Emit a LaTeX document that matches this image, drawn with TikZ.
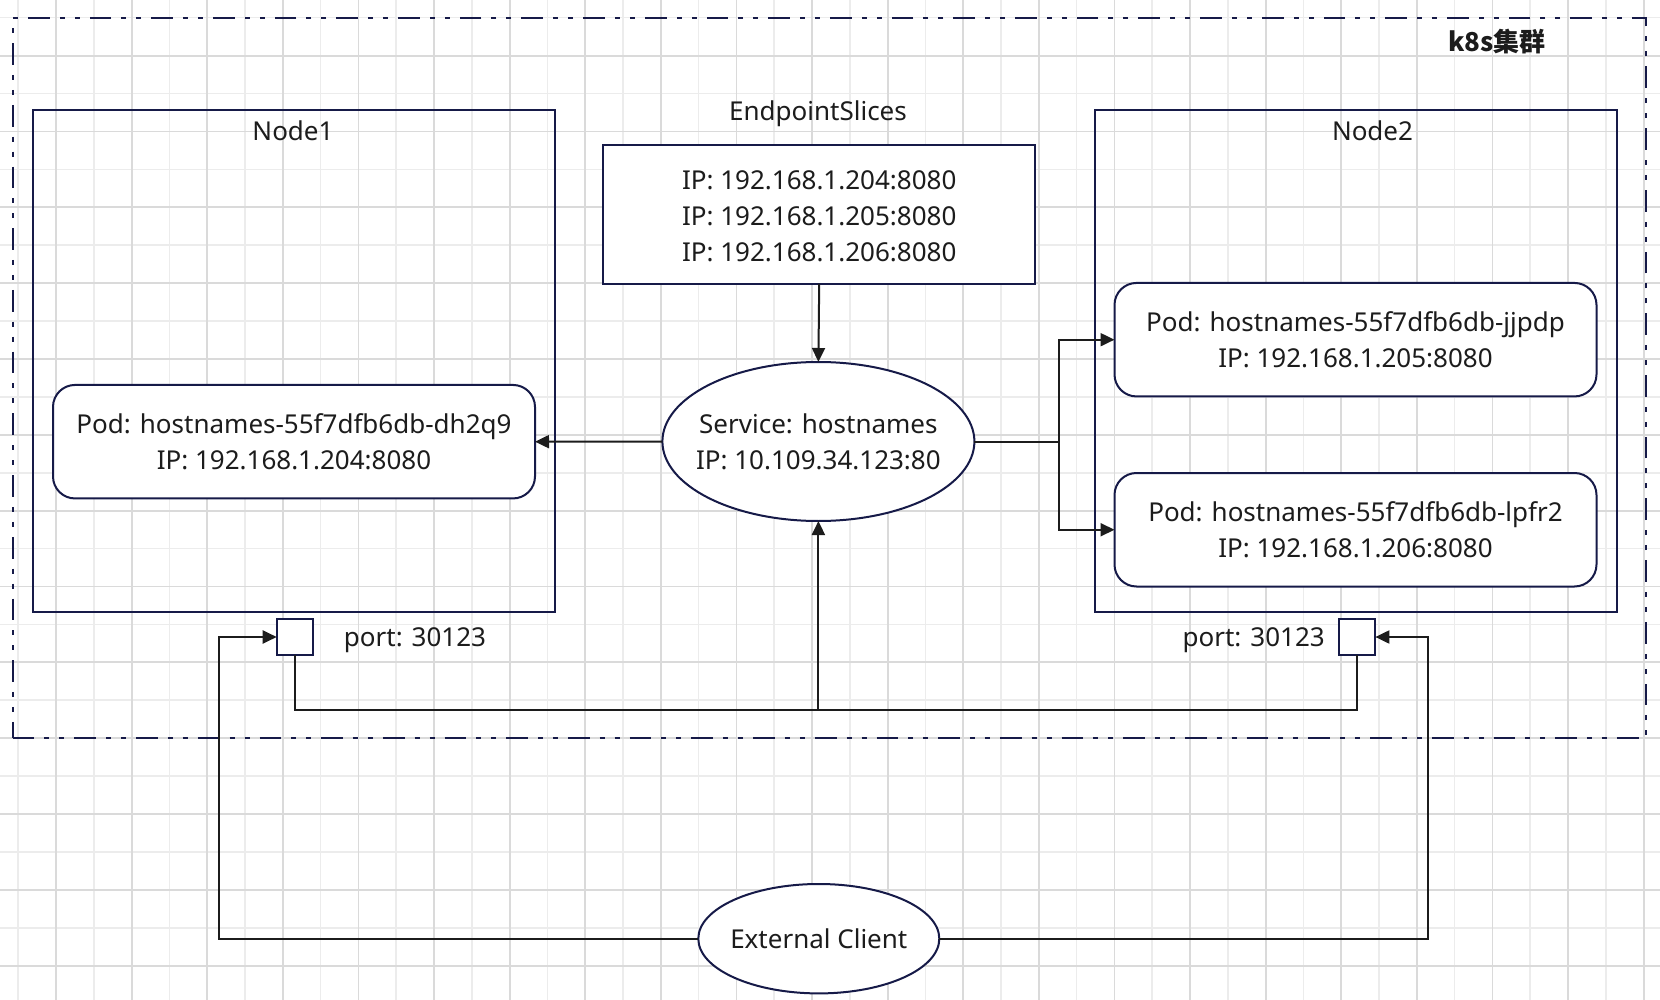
\documentclass[tikz,border=0pt]{standalone}
\usepackage{fontspec}
\setmainfont{Noto Sans}
\newfontfamily\cjk{Noto Sans CJK SC}
\usetikzlibrary{arrows.meta,shapes.geometric}

\definecolor{navy}{RGB}{22,26,72}
\definecolor{ink}{RGB}{28,28,28}
\definecolor{gridmaj}{RGB}{218,218,218}
\definecolor{gridmin}{RGB}{236,236,236}

\tikzset{
  gridmajor/.style={draw=gridmaj,line width=1.8pt},
  gridminor/.style={draw=gridmin,line width=1.6pt},
  box/.style={draw=navy,line width=2pt,fill=white,rectangle,inner sep=0pt,outer sep=0pt},
  frame/.style={draw=navy,line width=2pt,rectangle,inner sep=0pt,outer sep=0pt},
  podbox/.style={box,rounded corners=22pt,minimum width=482pt,minimum height=113.5pt,align=center},
  oval/.style={draw=navy,line width=2pt,fill=white,ellipse,inner sep=0pt,outer sep=0pt},
  cluster/.style={draw=navy,line width=2pt,rectangle,inner sep=0pt,outer sep=0pt,
    dash pattern=on 21.7pt off 10pt on 5pt off 10pt on 5pt off 10pt},
  label/.style={inner sep=0pt,text=ink,text height=18.6pt,text depth=0pt},
  multiline/.style={inner sep=0pt,text=ink,align=center},
  conn/.style={draw=ink,line width=2pt},
  arr/.style={conn,-{Triangle[length=14pt,width=13pt]}},
}

\begin{document}
\begin{tikzpicture}[x=1pt,y=-1pt,font=\fontsize{26}{36}\selectfont,text=ink]
\useasboundingbox[fill=white] (0,0) rectangle (1660,1000);

% background grid
\foreach \k in {0,...,43}{
  \pgfmathsetmacro\gx{18.2+37.8*\k}
  \ifodd\k\else\draw[gridminor] (\gx,0) -- (\gx,1000);\fi
}
\foreach \k in {0,...,26}{
  \pgfmathsetmacro\gy{17.7+37.92*\k}
  \ifodd\k\else\draw[gridminor] (0,\gy) -- (1660,\gy);\fi
}
\foreach \k in {0,...,43}{
  \pgfmathsetmacro\gx{18.2+37.8*\k}
  \ifodd\k\draw[gridmajor] (\gx,0) -- (\gx,1000);\fi
}
\foreach \k in {0,...,26}{
  \pgfmathsetmacro\gy{17.7+37.92*\k}
  \ifodd\k\draw[gridmajor] (0,\gy) -- (1660,\gy);\fi
}

% cluster boundary
\node[cluster,minimum width=1632.8pt,minimum height=720pt] (k8s) at (829.1,378.3) {};
\node[label,font=\fontsize{26}{30}\cjk\bfseries] (k8slabel) at (1497,42) {k8s集群};

% worker nodes
\node[frame,minimum width=521.8pt,minimum height=502pt] (node1) at (293.6,360.7) {};
\node[label] (node1label) at (293,131) {Node1};
\node[frame,minimum width=522.2pt,minimum height=502pt] (node2) at (1355.6,360.7) {};
\node[label] (node2label) at (1372.5,131) {Node2};

% endpoint slices
\node[label] (epslabel) at (818,111) {EndpointSlices};
\node[box,minimum width=431.7pt,minimum height=139pt] (eps) at (819.2,214.5) {};
\node[multiline] (epstext) at (819.2,216.5)
  {IP: 192.168.1.204:8080\\IP: 192.168.1.205:8080\\IP: 192.168.1.206:8080};

% service
\node[oval,minimum width=312pt,minimum height=159pt] (svc) at (818.4,441.5) {};
\node[multiline] (svctext) at (818.4,441.5) {Service: hostnames\\IP: 10.109.34.123:80};

% pods
\node[podbox] (pod1) at (294,441.7) {Pod: hostnames-55f7dfb6db-dh2q9\\IP: 192.168.1.204:8080};
\node[podbox] (pod2) at (1355.5,339.7) {Pod: hostnames-55f7dfb6db-jjpdp\\IP: 192.168.1.205:8080};
\node[podbox] (pod3) at (1355.5,529.75) {Pod: hostnames-55f7dfb6db-lpfr2\\IP: 192.168.1.206:8080};

% node ports
\node[box,minimum width=36.6pt,minimum height=36pt] (port1) at (295,637) {};
\node[label] (port1label) at (415,637) {port: 30123};
\node[box,minimum width=36.3pt,minimum height=36pt] (port2) at (1357.2,637) {};
\node[label] (port2label) at (1253.7,637) {port: 30123};

% external client
\node[oval,minimum width=241pt,minimum height=109.4pt] (ext) at (818.8,938.7) {};
\node[label] (exttext) at (818.8,938.7) {External Client};

% routing points
\coordinate (split) at (1058.5,441.5);
\coordinate (bus) at (818.4,710);
\coordinate (leftrise) at (219,637);
\coordinate (rightrise) at (1428.3,637);

% connectors
\draw[arr] (eps.south) -- (svc.north);
\draw[arr] (svc.west) -- (pod1.east);
\draw[conn] (svc.east) -- (split);
\draw[arr] (split) |- (pod2.west);
\draw[arr] (split) |- (pod3.west);
\draw[conn] (port1.south) |- (bus) -| (port2.south);
\draw[arr] (bus) -- (svc.south);
\draw[arr] (ext.west) -| (leftrise) -- (port1.west);
\draw[arr] (ext.east) -| (rightrise) -- (port2.east);
\end{tikzpicture}
\end{document}
